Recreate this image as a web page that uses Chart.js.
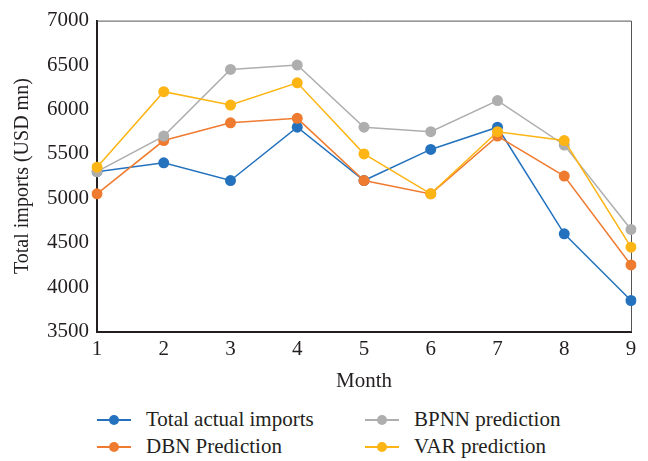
<!DOCTYPE html>
<html>
<head>
  <title>Total imports prediction</title>
  <style>
    body {
      margin: 0;
      background: #fff;
      font-family: "Liberation Serif", "DejaVu Serif", serif;
      color: #231f20;
    }
    .chart-container {
      position: relative;
      width: 648px;
      height: 398px;
    }
    .legend {
      position: relative;
      width: 648px;
      height: 63px;
      font-size: 21px;
    }
    .item {
      position: absolute;
      display: flex;
      align-items: center;
      white-space: nowrap;
    }
    .mark {
      position: relative;
      width: 34px;
      height: 2px;
      margin-right: 15px;
    }
    .mark span {
      position: absolute;
      left: 12px;
      top: -4px;
      width: 10px;
      height: 10px;
      border-radius: 50%;
    }
  </style>
  <script src="https://cdn.jsdelivr.net/npm/chart.js"></script>
</head>
<body>
  <div class="chart-container">
    <canvas id="importsChart"></canvas>
  </div>
  <div class="legend" id="legend"></div>
  <script>
    // Data
    const months = ['1', '2', '3', '4', '5', '6', '7', '8', '9'];
    const actualImports = [5300, 5400, 5200, 5800, 5200, 5550, 5800, 4600, 3850];
    const dbnPrediction = [5050, 5650, 5850, 5900, 5200, 5050, 5700, 5250, 4250];
    const bpnnPrediction = [5300, 5700, 6450, 6500, 5800, 5750, 6100, 5600, 4650];
    const varPrediction = [5350, 6200, 6050, 6300, 5500, 5050, 5750, 5650, 4450];

    const colors = {
      actual: '#2472bd',
      dbn: '#ef7b30',
      bpnn: '#aeaeae',
      var: '#fdb515'
    };

    const fontFamily = '"Liberation Serif", "DejaVu Serif", serif';

    function makeSet(label, data, color, order) {
      return {
        label: label,
        data: data,
        borderColor: color,
        backgroundColor: color,
        borderWidth: 1.5,
        pointRadius: 5.5,
        pointHoverRadius: 5.5,
        pointBorderWidth: 0,
        tension: 0,
        order: order
      };
    }

    // gray frame on top and right like the original box
    const frame = {
      id: 'frame',
      beforeDatasetsDraw(chart) {
        const a = chart.chartArea;
        const ctx = chart.ctx;
        ctx.save();
        ctx.strokeStyle = '#555';
        ctx.lineWidth = 1;
        ctx.beginPath();
        ctx.moveTo(a.left, a.top + 0.5);
        ctx.lineTo(a.right + 0.5, a.top + 0.5);
        ctx.lineTo(a.right + 0.5, a.bottom);
        ctx.stroke();
        ctx.restore();
      }
    };

    const ctx = document.getElementById('importsChart').getContext('2d');
    new Chart(ctx, {
      type: 'line',
      data: {
        labels: months,
        datasets: [
          makeSet('Total actual imports', actualImports, colors.actual, 4),
          makeSet('DBN Prediction', dbnPrediction, colors.dbn, 3),
          makeSet('BPNN prediction', bpnnPrediction, colors.bpnn, 2),
          makeSet('VAR prediction', varPrediction, colors.var, 1)
        ]
      },
      options: {
        responsive: true,
        maintainAspectRatio: false,
        animation: false,
        layout: {
          padding: { left: 7, right: 17, top: 15, bottom: 0 }
        },
        plugins: {
          legend: { display: false },
          tooltip: { enabled: false }
        },
        scales: {
          x: {
            offset: false,
            grid: { display: false, drawTicks: false },
            border: { color: '#231f20', width: 2 },
            ticks: {
              color: '#231f20',
              padding: 5,
              font: { family: fontFamily, size: 21 }
            },
            title: {
              display: true,
              text: 'Month',
              color: '#231f20',
              padding: { top: 2 },
              font: { family: fontFamily, size: 21 }
            }
          },
          y: {
            min: 3500,
            max: 7000,
            grid: { display: false, drawTicks: false },
            border: { color: '#231f20', width: 2 },
            ticks: {
              stepSize: 500,
              color: '#231f20',
              padding: 8,
              font: { family: fontFamily, size: 21 },
              callback: value => String(value)
            },
            title: {
              display: true,
              text: 'Total imports (USD mn)',
              color: '#231f20',
              padding: { bottom: 4 },
              font: { family: fontFamily, size: 20 }
            }
          }
        }
      },
      plugins: [frame]
    });

    // Two-column legend like the original
    const legendItems = [
      { label: 'Total actual imports', color: colors.actual, x: 97, y: 9 },
      { label: 'BPNN prediction', color: colors.bpnn, x: 365, y: 9 },
      { label: 'DBN Prediction', color: colors.dbn, x: 97, y: 36 },
      { label: 'VAR prediction', color: colors.var, x: 365, y: 36 }
    ];
    const legend = document.getElementById('legend');
    legendItems.forEach(item => {
      const div = document.createElement('div');
      div.className = 'item';
      div.style.left = item.x + 'px';
      div.style.top = item.y + 'px';
      div.innerHTML = '<div class="mark" style="background:' + item.color + '"><span style="background:' +
        item.color + '"></span></div>' + item.label;
      legend.appendChild(div);
    });
  </script>
</body>
</html>
